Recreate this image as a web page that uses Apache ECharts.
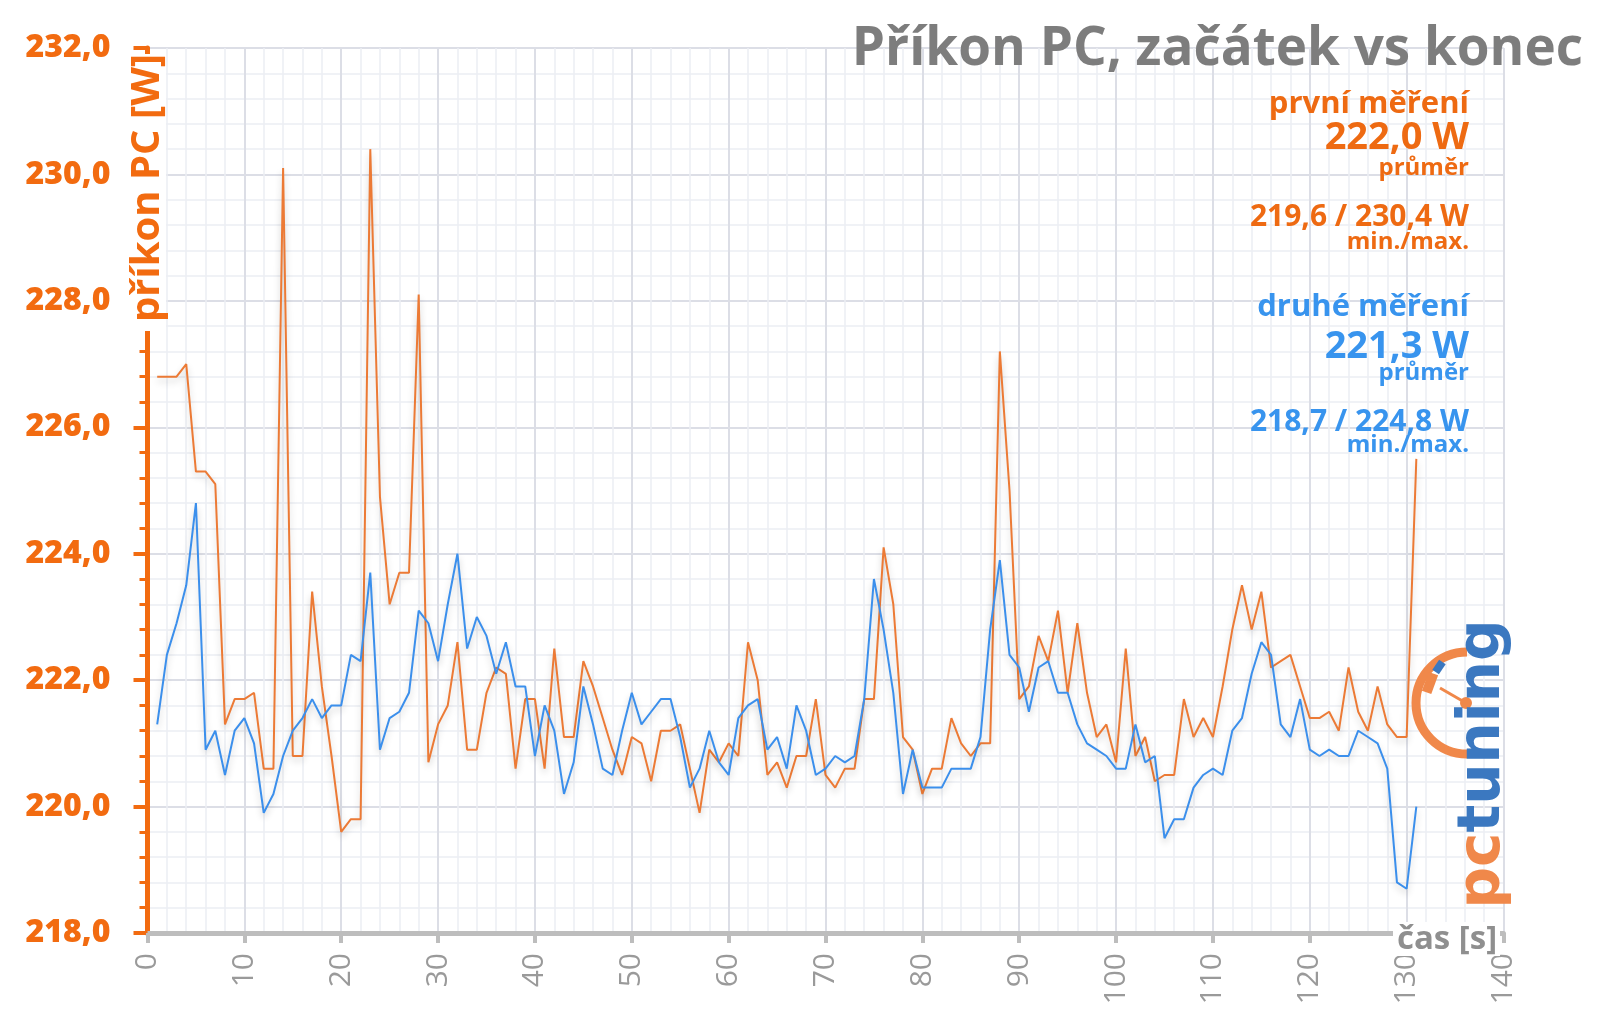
<!DOCTYPE html>
<html>
<head>
<meta charset="utf-8">
<script src="https://cdn.jsdelivr.net/npm/echarts@6/dist/echarts.min.js"></script>
<style>
  html, body { margin: 0; padding: 0; background: #fff; }
  #chart { width: 1600px; height: 1017px; }
</style>
</head>
<body>
<div id="chart"></div>
<script>
// ---- data ----
const firstSecond = 1;
const prvniMereni = [
  226.8, 226.8, 226.8, 227.0, 225.3, 225.3, 225.1, 221.3, 221.7, 221.7,
  221.8, 220.6, 220.6, 230.1, 220.8, 220.8, 223.4, 221.9, 220.8, 219.6,
  219.8, 219.8, 230.4, 224.9, 223.2, 223.7, 223.7, 228.1, 220.7, 221.3,
  221.6, 222.6, 220.9, 220.9, 221.8, 222.2, 222.1, 220.6, 221.7, 221.7,
  220.6, 222.5, 221.1, 221.1, 222.3, 221.9, 221.4, 220.9, 220.5, 221.1,
  221.0, 220.4, 221.2, 221.2, 221.3, 220.6, 219.9, 220.9, 220.7, 221.0,
  220.8, 222.6, 222.0, 220.5, 220.7, 220.3, 220.8, 220.8, 221.7, 220.5,
  220.3, 220.6, 220.6, 221.7, 221.7, 224.1, 223.2, 221.1, 220.9, 220.2,
  220.6, 220.6, 221.4, 221.0, 220.8, 221.0, 221.0, 227.2, 225.0, 221.7,
  221.9, 222.7, 222.3, 223.1, 221.8, 222.9, 221.8, 221.1, 221.3, 220.7,
  222.5, 220.8, 221.1, 220.4, 220.5, 220.5, 221.7, 221.1, 221.4, 221.1,
  221.9, 222.8, 223.5, 222.8, 223.4, 222.2, 222.3, 222.4, 221.9, 221.4,
  221.4, 221.5, 221.2, 222.2, 221.5, 221.2, 221.9, 221.3, 221.1, 221.1,
  225.5
];
const druheMereni = [
  221.3, 222.4, 222.9, 223.5, 224.8, 220.9, 221.2, 220.5, 221.2, 221.4,
  221.0, 219.9, 220.2, 220.8, 221.2, 221.4, 221.7, 221.4, 221.6, 221.6,
  222.4, 222.3, 223.7, 220.9, 221.4, 221.5, 221.8, 223.1, 222.9, 222.3,
  223.2, 224.0, 222.5, 223.0, 222.7, 222.1, 222.6, 221.9, 221.9, 220.8,
  221.6, 221.2, 220.2, 220.7, 221.9, 221.3, 220.6, 220.5, 221.2, 221.8,
  221.3, 221.5, 221.7, 221.7, 221.1, 220.3, 220.6, 221.2, 220.7, 220.5,
  221.4, 221.6, 221.7, 220.9, 221.1, 220.6, 221.6, 221.2, 220.5, 220.6,
  220.8, 220.7, 220.8, 221.7, 223.6, 222.8, 221.8, 220.2, 220.9, 220.3,
  220.3, 220.3, 220.6, 220.6, 220.6, 221.1, 222.8, 223.9, 222.4, 222.2,
  221.5, 222.2, 222.3, 221.8, 221.8, 221.3, 221.0, 220.9, 220.8, 220.6,
  220.6, 221.3, 220.7, 220.8, 219.5, 219.8, 219.8, 220.3, 220.5, 220.6,
  220.5, 221.2, 221.4, 222.1, 222.6, 222.4, 221.3, 221.1, 221.7, 220.9,
  220.8, 220.9, 220.8, 220.8, 221.2, 221.1, 221.0, 220.6, 218.8, 218.7,
  220.0
];
const titleText = 'Příkon PC, začátek vs konec';
const yAxisName = 'příkon PC [W]';
const xAxisName = 'čas [s]';
const legendFirst = ['první měření', '222,0 W', 'průměr', '219,6 / 230,4 W', 'min./max.'];
const legendSecond = ['druhé měření', '221,3 W', 'průměr', '218,7 / 224,8 W', 'min./max.'];

// ---- colours ----
const ORANGE_LINE = '#ec7a35';
const BLUE_LINE = '#3b8fec';
const ORANGE_TXT = '#ee6a12';
const BLUE_TXT = '#3894ee';
const AXIS_ORANGE = '#f26b10';

function toPairs(arr) {
  return arr.map((v, i) => [firstSecond + i, v]);
}

const chart = echarts.init(document.getElementById('chart'), null, { renderer: 'canvas' });

const lineShadow = { shadowColor: 'rgba(0,0,0,0.2)', shadowBlur: 7, shadowOffsetY: 4 };

function legendBlock(lines, color, ys) {
  const fonts = [
    'bold 31px "Open Sans"',
    'bold 38px "Open Sans"',
    'bold 24px "Open Sans"',
    'bold 30px "Open Sans"',
    'bold 24px "Open Sans"'
  ];
  return lines.map((t, i) => ({
    type: 'text', x: 1469, y: ys[i], z: 100,
    style: { text: t, fill: color, font: fonts[i], align: 'right', verticalAlign: 'middle' }
  }));
}

const option = {
  backgroundColor: '#ffffff',
  animation: false,
  grid: { left: 147.5, right: 96.5, top: 48, bottom: 84, containLabel: false },
  xAxis: {
    type: 'value', min: 0, max: 140, interval: 10,
    axisLine: { show: true, onZero: false, lineStyle: { color: '#bdbdbd', width: 5 } },
    axisTick: { show: true, length: 10, lineStyle: { color: '#bdbdbd', width: 4 } },
    minorTick: { show: false, splitNumber: 5 },
    splitLine: { show: true, lineStyle: { color: '#dcdee6', width: 2 } },
    minorSplitLine: { show: true, lineStyle: { color: '#eceef4', width: 1.5 } },
    axisLabel: { rotate: 90, margin: 20, color: '#9a9a9a', fontSize: 30, fontFamily: 'Open Sans', fontWeight: 'normal' }
  },
  yAxis: {
    type: 'value', min: 218, max: 232, interval: 2,
    axisLine: { show: true, lineStyle: { color: AXIS_ORANGE, width: 5 } },
    axisTick: { show: true, length: 14, lineStyle: { color: AXIS_ORANGE, width: 4 } },
    minorTick: { show: true, splitNumber: 5, length: 8, lineStyle: { color: AXIS_ORANGE, width: 3 } },
    splitLine: { show: true, lineStyle: { color: '#dcdee6', width: 2 } },
    minorSplitLine: { show: true, lineStyle: { color: '#eceef4', width: 1.5 } },
    axisLabel: {
      margin: 37, color: AXIS_ORANGE, fontSize: 32, fontWeight: 800, fontFamily: 'Open Sans',
      formatter: v => v.toFixed(1).replace('.', ',')
    }
  },
  series: [
    {
      name: 'první měření', type: 'line', data: toPairs(prvniMereni), showSymbol: false,
      lineStyle: Object.assign({ color: ORANGE_LINE, width: 2 }, lineShadow), z: 3
    },
    {
      name: 'druhé měření', type: 'line', data: toPairs(druheMereni), showSymbol: false,
      lineStyle: Object.assign({ color: BLUE_LINE, width: 2 }, lineShadow), z: 4
    }
  ],
  graphic: [
    // title
    { type: 'text', x: 1583, y: 50, z: 100,
      style: { text: titleText, fill: '#7d7d7d', font: 'bold 53px "Open Sans"', align: 'right', verticalAlign: 'middle' } },
    // y axis name with white box
    { type: 'rect', shape: { x: 126, y: 54, width: 40, height: 277 }, style: { fill: '#ffffff' }, z: 50 },
    { type: 'text', x: 148, y: 188, rotation: Math.PI / 2, z: 51,
      style: { text: yAxisName, fill: AXIS_ORANGE, font: 'bold 40px "Open Sans"', align: 'center', verticalAlign: 'middle' } },
    // x axis name with white box
    { type: 'rect', shape: { x: 1393, y: 922, width: 107, height: 34 }, style: { fill: '#ffffff' }, z: 50 },
    { type: 'text', x: 1447, y: 940, z: 51,
      style: { text: xAxisName, fill: '#8f8f8f', font: 'bold 33px "Open Sans"', align: 'center', verticalAlign: 'middle' } },
    // logo
    { type: 'arc', shape: { cx: 1467, cy: 703, r: 51, startAngle: Math.PI / 2, endAngle: Math.PI * 1.5, clockwise: true },
      style: { stroke: '#f0884a', lineWidth: 9, fill: null }, z: 60 },
    { type: 'line', shape: { x1: 1466, y1: 703, x2: 1440, y2: 688 }, style: { stroke: '#f0884a', lineWidth: 3 }, z: 60 },
    { type: 'circle', shape: { cx: 1466, cy: 703, r: 6 }, style: { fill: '#f0884a' }, z: 60 },
    { type: 'rect', shape: { x: -4, y: -6, width: 8, height: 12 }, x: 1439, y: 667, rotation: -0.6,
      style: { fill: '#3b78c0' }, z: 61 },
    { type: 'rect', shape: { x: -5, y: -10, width: 10, height: 20 }, x: 1430, y: 683, rotation: -0.35,
      style: { fill: '#f0884a' }, z: 61 },
    { type: 'text', x: 1484, y: 764, rotation: Math.PI / 2, z: 62,
      style: {
        text: '{a|pc}{b|tuning}', align: 'center', verticalAlign: 'middle',
        rich: {
          a: { fill: '#f0884a', font: 'bold 58px "DejaVu Sans"' },
          b: { fill: '#3b78c0', font: 'bold 58px "DejaVu Sans"' }
        }
      } }
  ]
    .concat(legendBlock(legendFirst, ORANGE_TXT, [104, 138, 168, 217, 242]))
    .concat(legendBlock(legendSecond, BLUE_TXT, [307, 347, 373, 422, 445]))
};

chart.setOption(option);
</script>
</body>
</html>
